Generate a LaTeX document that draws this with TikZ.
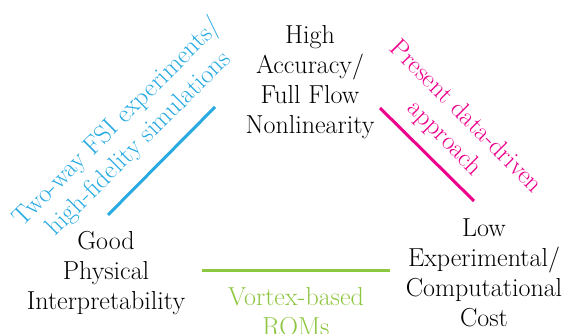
\documentclass[tikz,border=0pt]{standalone}
\definecolor{fsiblue}{RGB}{41,171,226}
\definecolor{datapink}{RGB}{236,0,140}
\definecolor{romgreen}{RGB}{141,198,63}
\begin{document}
\begin{tikzpicture}[x=1pt, y=1pt,
		corner/.style={align=center, font=\fontsize{26}{30}\selectfont},
		edgetext/.style={align=center, font=\fontsize{26}{30}\selectfont},
		edgeline/.style={line width=3pt}]
		\useasboundingbox (0,0) rectangle (568,334);
		% vertices of the triangle
		\node[corner] (acc) at (310,252) {High\\Accuracy/\\Full Flow\\Nonlinearity};
		\node[corner] (phys) at (106,61) {Good\\Physical\\Interpretability};
		\node[corner] (cost) at (484,61) {Low\\Experimental/\\Computational\\Cost};
		% edges
		\coordinate (b1) at (108,119);
		\coordinate (b2) at (215,227);
		\coordinate (p1) at (380,226);
		\coordinate (p2) at (474,133);
		\coordinate (g1) at (202,63);
		\coordinate (g2) at (390,63);
		\draw[edgeline, fsiblue] (b1) -- (b2);
		\draw[edgeline, datapink] (p1) -- (p2);
		\draw[edgeline, romgreen] (g1) -- (g2);
		% edge labels
		\node[edgetext, text=fsiblue, rotate=45] (fsi) at (128,201) {Two-way FSI experiments/\\high-fidelity simulations};
		\node[edgetext, text=datapink, rotate=-45] (data) at (455,206) {Present data-driven\\approach};
		\node[edgetext, text=romgreen, anchor=north] (rom) at (296,50) {Vortex-based\\ROMs};
\end{tikzpicture}
\end{document}
